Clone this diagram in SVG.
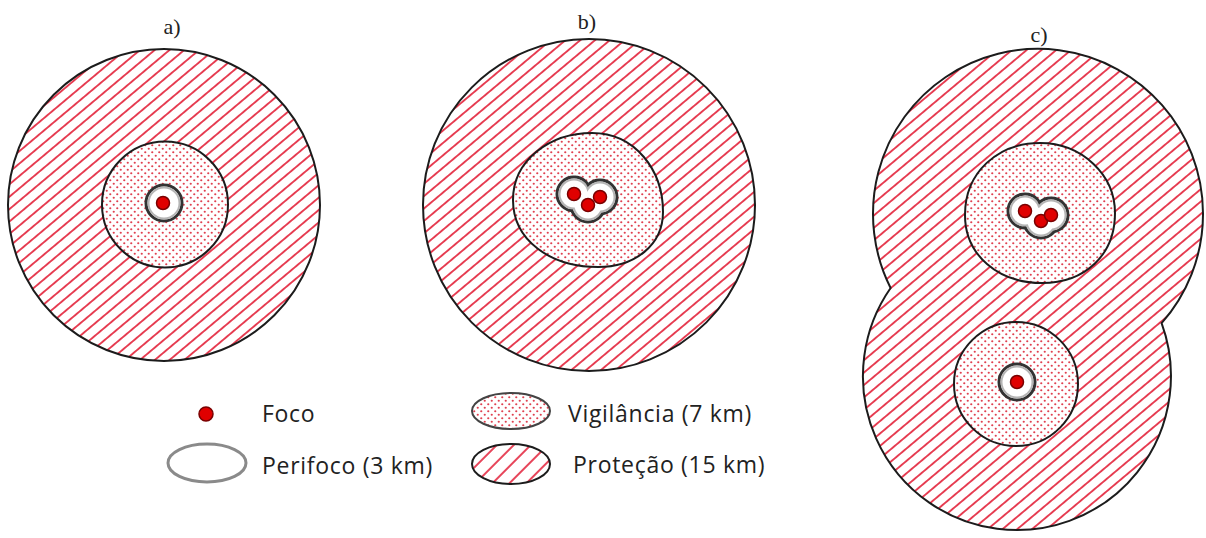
<svg xmlns="http://www.w3.org/2000/svg" width="1206" height="538" viewBox="0 0 1206 538">
<defs>
<pattern id="hatch" width="9.5" height="9.5" patternUnits="userSpaceOnUse" patternTransform="rotate(-40)">
<rect width="9.5" height="9.5" fill="#fff"/>
<line x1="0" y1="4.75" x2="9.5" y2="4.75" stroke="#e53047" stroke-width="1.8"/>
</pattern>
<pattern id="hatchL" width="12" height="12" patternUnits="userSpaceOnUse" patternTransform="rotate(-45)">
<rect width="12" height="12" fill="#fff"/>
<line x1="0" y1="6" x2="12" y2="6" stroke="#e53047" stroke-width="1.8"/>
</pattern>
<pattern id="dots" width="7" height="7" patternUnits="userSpaceOnUse">
<rect width="7" height="7" fill="#fff"/>
<circle cx="1.75" cy="1.75" r="1.1" fill="#e0404f"/>
<circle cx="5.25" cy="5.25" r="1.1" fill="#e0404f"/>
</pattern>
<style>
.border{stroke:#1c1c1c;stroke-width:2;}
.pd{fill:#fff;stroke:#333;stroke-width:3;}
.pg{fill:#b5b5b5;}
.pw{fill:#fff;}
.foco{fill:#e00000;stroke:#7a0000;stroke-width:1.5;}
.lbl{font-family:"Liberation Serif",serif;font-size:22px;fill:#222;text-anchor:middle;}
.leg{font-family:"Open Sans","Noto Sans",sans-serif;font-size:23px;letter-spacing:0.7px;fill:#222;}
</style>
</defs>
<rect width="1206" height="538" fill="#fff"/>

<g id="zone-a">
<text class="lbl" x="172" y="34">a)</text>
<circle cx="164" cy="205" r="156" fill="url(#hatch)" class="border"/>
<circle cx="165" cy="204.5" r="63" fill="url(#dots)" class="border"/>
<circle cx="164" cy="203" r="18" class="pd"/>
<circle cx="164" cy="203" r="16.5" class="pg"/>
<circle cx="164" cy="203" r="14.5" class="pw"/>
<circle cx="163" cy="203" r="6.5" class="foco"/>
</g>

<g id="zone-b">
<text class="lbl" x="587" y="29">b)</text>
<circle cx="589" cy="205" r="166" fill="url(#hatch)" class="border"/>
<path d="M513,200 C513,160 550,133 592,133 C635,133 663,170 663,212 C663,245 635,267 598,267 C550,267 513,240 513,200 Z" fill="url(#dots)" class="border"/>
<g>
<circle cx="574" cy="194" r="17" class="pd"/>
<circle cx="588" cy="205" r="17" class="pd"/>
<circle cx="600" cy="197" r="17" class="pd"/>
<circle cx="574" cy="194" r="15.5" class="pg"/>
<circle cx="588" cy="205" r="15.5" class="pg"/>
<circle cx="600" cy="197" r="15.5" class="pg"/>
<circle cx="574" cy="194" r="13.5" class="pw"/>
<circle cx="588" cy="205" r="13.5" class="pw"/>
<circle cx="600" cy="197" r="13.5" class="pw"/>
</g>
<circle cx="574" cy="194" r="6.5" class="foco"/>
<circle cx="588" cy="205" r="6.5" class="foco"/>
<circle cx="600" cy="197" r="6.5" class="foco"/>
</g>

<g id="zone-c">
<text class="lbl" x="1039" y="42">c)</text>
<path d="M890.6,288 A165,165 0 1 1 1161.6,323.2 A154,154 0 1 1 890.6,288 Z" fill="url(#hatch)" class="border"/>
<path d="M965,215 C965,172 998,143 1040,143 C1082,143 1115,175 1115,213 C1115,255 1085,283 1042,283 C998,283 965,255 965,215 Z" fill="url(#dots)" class="border"/>
<g>
<circle cx="1025" cy="211" r="17" class="pd"/>
<circle cx="1041" cy="221" r="17" class="pd"/>
<circle cx="1051" cy="215" r="17" class="pd"/>
<circle cx="1025" cy="211" r="15.5" class="pg"/>
<circle cx="1041" cy="221" r="15.5" class="pg"/>
<circle cx="1051" cy="215" r="15.5" class="pg"/>
<circle cx="1025" cy="211" r="13.5" class="pw"/>
<circle cx="1041" cy="221" r="13.5" class="pw"/>
<circle cx="1051" cy="215" r="13.5" class="pw"/>
</g>
<circle cx="1025" cy="211" r="6.5" class="foco"/>
<circle cx="1041" cy="221" r="6.5" class="foco"/>
<circle cx="1051" cy="215" r="6.5" class="foco"/>
<circle cx="1016" cy="384" r="62" fill="url(#dots)" class="border"/>
<circle cx="1017" cy="382" r="18" class="pd"/>
<circle cx="1017" cy="382" r="16.5" class="pg"/>
<circle cx="1017" cy="382" r="14.5" class="pw"/>
<circle cx="1017" cy="382" r="6.5" class="foco"/>
</g>

<g id="legend">
<g id="leg-foco">
<circle cx="206" cy="414" r="7" class="foco"/>
<text class="leg" x="262" y="422">Foco</text>
</g>
<g id="leg-perifoco">
<ellipse cx="207" cy="463" rx="39" ry="19" fill="#fff" stroke="#8a8a8a" stroke-width="3"/>
<text class="leg" x="262" y="474">Perifoco (3 km)</text>
</g>
<g id="leg-vigilancia">
<ellipse cx="511" cy="411" rx="39" ry="18" fill="url(#dots)" stroke="#444" stroke-width="2"/>
<text class="leg" x="568" y="422">Vigilância (7 km)</text>
</g>
<g id="leg-protecao">
<ellipse cx="511" cy="464" rx="39" ry="20" fill="url(#hatchL)" stroke="#1c1c1c" stroke-width="2"/>
<text class="leg" x="573" y="473">Proteção (15 km)</text>
</g>
</g>
</svg>
